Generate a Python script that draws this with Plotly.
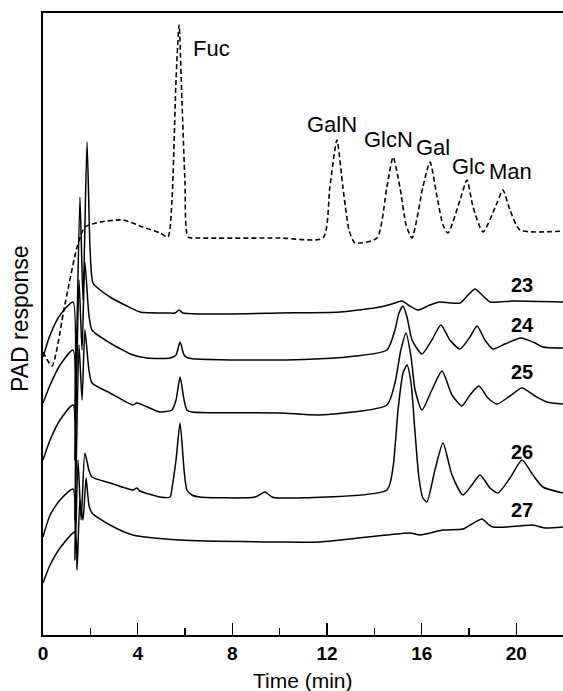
import plotly.graph_objects as go

# ---------------- data (time in min, PAD response in arbitrary units, traces stacked) -------------
time_std = [0.00, 0.38, 0.93, 1.44, 1.77, 2.41, 3.38, 4.22, 4.94, 5.28, 5.45, 5.62, 5.75, 5.87, 6.00,
            6.13, 6.63, 10.01, 11.83, 12.12, 12.42, 12.67, 12.93, 13.18, 14.11, 14.53, 14.79, 15.08,
            15.34, 15.59, 16.05, 16.35, 16.65, 16.90, 17.11, 17.62, 17.91, 18.17, 18.59, 19.18, 19.43,
            19.73, 20.15, 21.97]
resp_std = [283, 269, 331, 388, 408, 413, 415, 408, 402, 398, 435, 555, 610, 535, 452,
            398, 397, 397, 397, 448, 495, 448, 405, 392, 397, 448, 478, 448,
            410, 397, 448, 473, 438, 410, 402, 435, 455, 428, 403, 432, 445,
            425, 405, 404]

time_23 = [0.00, 0.30, 0.72, 1.27, 1.35, 1.56, 1.69, 1.86, 1.99, 2.11, 2.41, 2.83, 3.46, 4.10, 5.24,
           5.58, 5.75, 5.91, 6.63, 10.01, 12.55, 14.24, 14.87, 15.17, 15.50, 15.84, 16.35, 16.77,
           17.19, 17.62, 17.96, 18.25, 18.55, 18.89, 19.86, 21.97]
resp_23 = [278, 300, 320, 333, 215, 438, 335, 493, 385, 352, 345, 338, 330, 323, 322,
           322, 325, 322, 321, 322, 323, 328, 332, 334, 329, 325, 330, 333,
           332, 332, 340, 346, 340, 333, 334, 333]

time_24 = [0.00, 0.30, 0.72, 1.27, 1.35, 1.52, 1.65, 1.77, 1.94, 2.07, 2.83, 3.80, 4.39, 5.37, 5.62,
           5.79, 5.96, 6.13, 10.01, 12.84, 14.53, 14.87, 15.04, 15.21, 15.38, 15.59, 16.01, 16.43,
           16.81, 17.19, 17.62, 18.04, 18.34, 18.67, 19.01, 19.52, 20.19, 20.79, 21.12, 21.97]
resp_24 = [232, 250, 270, 285, 175, 355, 285, 373, 320, 305, 292, 280, 277, 277, 280,
           293, 280, 277, 275, 278, 285, 305, 322, 329, 318, 295, 281, 295,
           310, 295, 286, 298, 309, 295, 286, 291, 297, 292, 288, 287]

time_25 = [0.00, 0.30, 0.72, 1.27, 1.35, 1.52, 1.65, 1.77, 1.94, 2.07, 2.83, 3.80, 3.97, 4.94, 5.45,
           5.62, 5.79, 5.96, 6.08, 6.29, 10.01, 11.70, 14.53, 14.87, 15.12, 15.34, 15.55, 15.72,
           16.01, 16.43, 16.86, 17.28, 17.70, 18.04, 18.42, 18.80, 19.18, 19.73, 20.24, 20.79,
           21.29, 21.97]
resp_25 = [175, 195, 215, 230, 115, 290, 235, 305, 265, 252, 242, 230, 232, 223, 225,
           235, 258, 235, 225, 223, 222, 220, 230, 252, 285, 302, 278, 245,
           225, 245, 264, 240, 229, 240, 249, 237, 231, 239, 247, 239,
           233, 231]

time_26 = [0.00, 0.30, 0.72, 1.27, 1.35, 1.48, 1.61, 1.77, 1.94, 2.07, 2.83, 3.80, 3.97, 4.10, 4.94,
           5.37, 5.45, 5.62, 5.79, 5.96, 6.08, 6.29, 6.63, 8.96, 9.38, 9.67, 10.01, 14.53, 14.79,
           15.00, 15.21, 15.38, 15.55, 15.72, 15.88, 16.05, 16.22, 16.56, 16.90, 17.28, 17.74,
           18.12, 18.46, 18.89, 19.22, 19.73, 20.24, 20.70, 21.12, 21.97]
resp_26 = [98, 120, 135, 146, 75, 175, 115, 182, 165, 158, 152, 145, 147, 144, 138,
           138, 147, 175, 212, 165, 145, 140, 138, 138, 143, 138, 137, 145, 168,
           225, 262, 270, 252, 202, 158, 137, 133, 165, 192, 160, 140,
           150, 160, 147, 142, 157, 175, 160, 148, 142]

time_27 = [0.00, 0.30, 0.72, 1.35, 1.44, 1.56, 1.69, 1.82, 1.94, 2.07, 2.83, 3.80, 5.79, 10.01, 11.70,
           15.50, 15.93, 16.90, 17.74, 18.12, 18.55, 18.80, 19.01, 20.15, 20.70, 21.21, 21.97]
resp_27 = [52, 70, 87, 103, 65, 135, 115, 157, 130, 122, 110, 100, 95, 93, 93,
           102, 100, 105, 106, 111, 116, 111, 108, 109, 110, 107, 108]

peak_names = ["Fuc", "GalN", "GlcN", "Gal", "Glc", "Man"]
peak_label_time = [7.14, 12.21, 14.58, 16.48, 17.96, 19.77]
peak_label_resp = [587, 511, 496, 488, 469, 464]

fraction_names = ["23", "24", "25", "26", "27"]
fraction_label_time = [20.24, 20.24, 20.24, 20.24, 20.24]
fraction_label_resp = [350, 310, 263, 183, 125]

major_ticks = [0, 4, 8, 12, 16, 20]
minor_ticks = [2, 6, 10, 14, 18]

# ---------------- figure -------------
FONT = "Liberation Sans, Arial, Helvetica, sans-serif"
fig = go.Figure()

fig.add_trace(go.Scatter(x=time_std, y=resp_std, mode="lines",
                         line=dict(color="black", width=1.6, dash="5px,3px", shape="spline", smoothing=0.6),
                         hoverinfo="skip", showlegend=False))
for tt, rr in [(time_23, resp_23), (time_24, resp_24), (time_25, resp_25),
               (time_26, resp_26), (time_27, resp_27)]:
    fig.add_trace(go.Scatter(x=tt, y=rr, mode="lines",
                             line=dict(color="black", width=1.5, shape="spline", smoothing=0.6),
                             hoverinfo="skip", showlegend=False))

for name, tx, ry in zip(peak_names, peak_label_time, peak_label_resp):
    fig.add_annotation(x=tx, y=ry, text=name, showarrow=False, xanchor="center", yanchor="middle",
                       font=dict(family=FONT, size=22, color="black"))
for name, tx, ry in zip(fraction_names, fraction_label_time, fraction_label_resp):
    fig.add_annotation(x=tx, y=ry, text="<b>" + name + "</b>", showarrow=False, xanchor="center",
                       yanchor="middle", font=dict(family=FONT, size=20, color="black"))

fig.add_annotation(xref="paper", yref="paper", x=0.5, y=0, yshift=-45, text="Time (min)",
                   showarrow=False, xanchor="center", yanchor="middle",
                   font=dict(family=FONT, size=21, color="black"))
fig.add_annotation(xref="paper", yref="y", x=0, xshift=-23, y=316, text="PAD response",
                   textangle=-90, showarrow=False, xanchor="center", yanchor="middle",
                   font=dict(family=FONT, size=23, color="black"))

fig.update_layout(
    width=563, height=691,
    margin=dict(l=43, r=0, t=13, b=56),
    paper_bgcolor="white", plot_bgcolor="white",
    font=dict(family=FONT, color="black"),
    hovermode=False, dragmode=False,
)
fig.update_xaxes(range=[0, 21.97], showline=True, linecolor="black", linewidth=2, mirror=True,
                 showgrid=False, zeroline=False,
                 tickmode="array", tickvals=major_ticks, ticktext=[str(v) for v in major_ticks],
                 ticks="inside", ticklen=12, tickwidth=1.5, tickcolor="black",
                 tickfont=dict(family=FONT, size=19, color="black", weight="bold"),
                 minor=dict(tickmode="array", tickvals=minor_ticks, ticks="inside", ticklen=7,
                            tickwidth=1.5, tickcolor="black", showgrid=False))
fig.update_yaxes(range=[0, 622], showline=True, linecolor="black", linewidth=2, mirror=False,
                 showgrid=False, zeroline=False, showticklabels=False, ticks="")

fig.write_html("out.html", config={"displayModeBar": False, "staticPlot": True},
               post_script="document.body.style.margin='0';document.body.style.overflow='hidden';")
